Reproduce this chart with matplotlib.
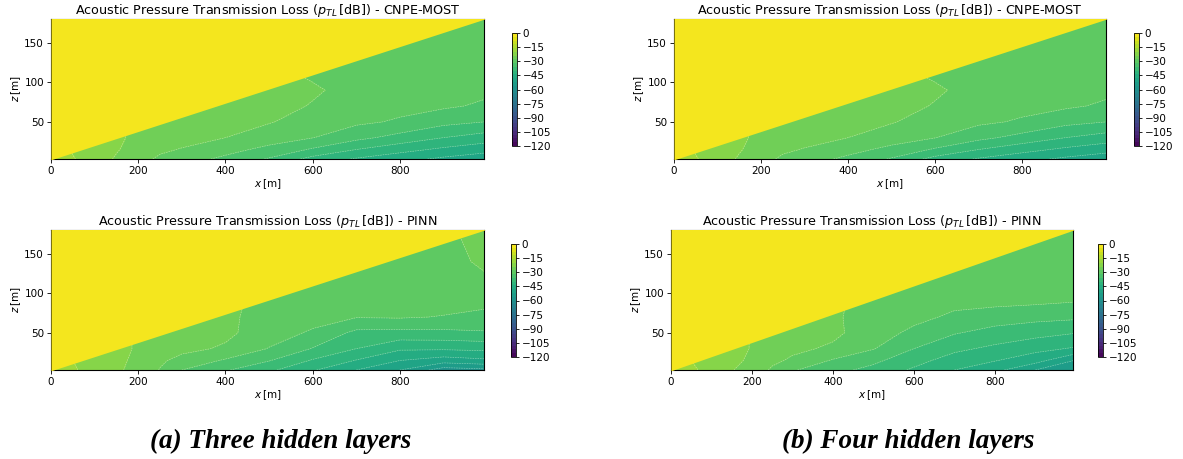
import numpy as np
import matplotlib.pyplot as plt

x_nodes = [0, 50, 100, 150, 200, 250, 300, 400, 500, 600, 700, 800, 900, 995]
z_nodes = [3, 15, 30, 50, 70, 90, 110, 140, 180]

# sea surface / upper boundary of the domain (yellow above it)
surface_x = [0, 995]
surface_z = [2, 180]

levels = np.linspace(-120, 0, 31)
cbar_ticks = [0, -15, -30, -45, -60, -75, -90, -105, -120]

# p_TL [dB], one row per z node (bottom -> top)
tl_cnpe = [
    [-16.8, -19.7, -22.2, -24.4, -26.8, -28.6, -30.4, -32.8, -36.4, -41.4, -44.4, -46.6, -48.8, -50.4],
    [-16.8, -20.4, -22.0, -23.7, -25.6, -27.4, -28.2, -30.8, -33.0, -36.5, -40.0, -42.6, -44.8, -46.6],
    [-16.8, -20.4, -22.0, -23.4, -24.8, -26.4, -26.8, -28.0, -30.3, -31.9, -34.9, -37.4, -40.0, -41.8],
    [-16.8, -20.4, -22.0, -23.4, -24.8, -26.0, -26.2, -26.8, -27.7, -30.0, -31.2, -32.5, -34.8, -36.0],
    [-16.8, -20.4, -22.0, -23.4, -24.8, -26.0, -26.2, -26.4, -26.9, -28.2, -29.6, -30.8, -31.4, -32.6],
    [-16.8, -20.4, -22.0, -23.4, -24.8, -26.0, -26.2, -26.4, -26.9, -27.6, -29.0, -30.0, -30.4, -31.2],
    [-16.8, -20.4, -22.0, -23.4, -24.8, -26.0, -26.2, -26.4, -27.2, -28.4, -28.8, -29.6, -30.0, -30.4],
    [-16.8, -20.4, -22.0, -23.4, -24.8, -26.0, -26.2, -26.4, -27.2, -28.4, -28.8, -29.2, -29.6, -30.0],
    [-16.8, -20.4, -22.0, -23.4, -24.8, -26.0, -26.2, -26.4, -27.2, -28.4, -28.8, -29.2, -29.2, -29.6],
]

tl_pinn3 = [
    [-16.8, -19.4, -22.0, -23.4, -25.2, -28.2, -32.0, -35.6, -39.2, -43.6, -48.0, -52.0, -58.0, -57.0],
    [-16.8, -20.0, -21.8, -23.2, -24.8, -27.4, -29.2, -32.5, -35.8, -40.4, -44.2, -48.0, -50.0, -48.8],
    [-16.8, -20.0, -21.8, -23.0, -24.4, -26.0, -27.0, -28.5, -32.2, -36.2, -40.0, -43.4, -43.4, -43.0],
    [-16.8, -20.0, -21.8, -23.0, -24.4, -25.6, -26.2, -27.2, -30.0, -32.6, -37.0, -37.2, -37.0, -36.4],
    [-16.8, -20.0, -21.8, -23.0, -24.4, -25.6, -26.0, -27.4, -29.2, -30.4, -31.8, -31.6, -32.2, -33.2],
    [-16.8, -20.0, -21.8, -23.0, -24.4, -25.6, -26.0, -27.4, -28.8, -29.6, -30.4, -30.4, -30.4, -30.8],
    [-16.8, -20.0, -21.8, -23.0, -24.4, -25.6, -26.0, -27.4, -28.8, -29.2, -30.0, -30.0, -30.0, -28.8],
    [-16.8, -20.0, -21.8, -23.0, -24.4, -25.6, -26.0, -27.4, -28.8, -29.2, -29.6, -29.6, -29.2, -27.4],
    [-16.8, -20.0, -21.8, -23.0, -24.4, -25.6, -26.0, -27.4, -28.8, -29.2, -29.6, -29.6, -28.8, -26.4],
]

tl_pinn4 = [
    [-16.8, -19.2, -21.6, -23.8, -25.6, -28.6, -31.6, -34.8, -37.2, -40.6, -44.0, -46.8, -52.0, -56.0],
    [-16.8, -20.0, -21.6, -23.2, -24.6, -27.2, -28.6, -32.4, -35.1, -38.6, -41.8, -43.8, -46.4, -52.0],
    [-16.8, -20.0, -21.6, -22.8, -24.2, -26.0, -27.2, -28.6, -31.8, -36.0, -39.1, -40.9, -42.8, -44.4],
    [-16.8, -20.0, -21.6, -22.8, -24.2, -25.6, -26.4, -27.2, -30.0, -33.0, -35.7, -37.4, -38.6, -39.8],
    [-16.8, -20.0, -21.6, -22.8, -24.2, -25.6, -26.4, -27.6, -29.2, -30.8, -32.8, -34.1, -34.8, -35.2],
    [-16.8, -20.0, -21.6, -22.8, -24.2, -25.6, -26.4, -27.6, -28.8, -29.6, -30.8, -30.8, -31.2, -31.8],
    [-16.8, -20.0, -21.6, -22.8, -24.2, -25.6, -26.4, -27.6, -28.8, -29.2, -30.0, -30.0, -30.2, -30.4],
    [-16.8, -20.0, -21.6, -22.8, -24.2, -25.6, -26.4, -27.6, -28.8, -29.2, -29.6, -29.6, -29.6, -29.6],
    [-16.8, -20.0, -21.6, -22.8, -24.2, -25.6, -26.4, -27.6, -28.8, -29.2, -29.6, -29.6, -29.6, -29.6],
]

W, H = 1183, 459
fig = plt.figure(figsize=(W / 100, H / 100), dpi=100)


def rect(left, top, right, bottom):
    return [left / W, 1 - bottom / H, (right - left) / W, (bottom - top) / H]


def panel(ax_box, cb_box, field, title):
    ax = fig.add_axes(rect(*ax_box))
    cax = fig.add_axes(rect(*cb_box))
    X, Z = np.meshgrid(x_nodes, z_nodes)
    T = np.array(field)
    cs = ax.contourf(X, Z, T, levels=levels, cmap='viridis', vmin=-120, vmax=0)
    ax.contour(X, Z, T, levels=levels, colors='white', linewidths=0.45, alpha=0.45,
               linestyles=[(0, (2.5, 1.5))])
    top_color = cs.cmap(cs.norm(0.5 * (levels[-1] + levels[-2])))
    ax.fill_between(surface_x, surface_z, 185, color=top_color, lw=0, zorder=3)
    ax.set_xlim(0, 993)
    ax.set_ylim(3, 180)
    ax.set_xticks([0, 200, 400, 600, 800])
    ax.set_yticks([50, 100, 150])
    ax.tick_params(labelsize=7.5, length=3, width=0.6, pad=2)
    ax.set_xlabel(r'$x\,$[m]', fontsize=7.5, labelpad=1)
    ax.set_ylabel(r'$z\,$[m]', fontsize=7.5, labelpad=1)
    ax.set_title(title, fontsize=9.2, pad=3)
    for s in ax.spines.values():
        s.set_linewidth(0.8)
    cb = fig.colorbar(cs, cax=cax, ticks=cbar_ticks)
    cb.ax.tick_params(labelsize=7.5, length=2.5, width=0.6, pad=1.5)
    cb.outline.set_linewidth(0.6)
    return ax


t_ref = r'Acoustic Pressure Transmission Loss ($p_{TL}\,$[dB]) - CNPE-MOST'
t_pinn = r'Acoustic Pressure Transmission Loss ($p_{TL}\,$[dB]) - PINN'

panel((51, 19, 484, 159), (512, 33, 517, 146), tl_cnpe, t_ref)
panel((51, 230, 484, 370), (511, 244, 516, 357), tl_pinn3, t_pinn)
panel((674, 19, 1106, 159), (1134, 33, 1139, 146), tl_cnpe, t_ref)
panel((671, 230, 1073, 370), (1098, 244, 1103, 357), tl_pinn4, t_pinn)

cap_font = dict(family='Liberation Serif', weight='bold', style='italic', fontsize=19.5,
                ha='center', va='center')
fig.text(281 / W, 1 - 441 / H, '(a) Three hidden layers', **cap_font)
fig.text(908 / W, 1 - 441 / H, '(b) Four hidden layers', **cap_font)

fig.savefig('out.png', dpi=100)
